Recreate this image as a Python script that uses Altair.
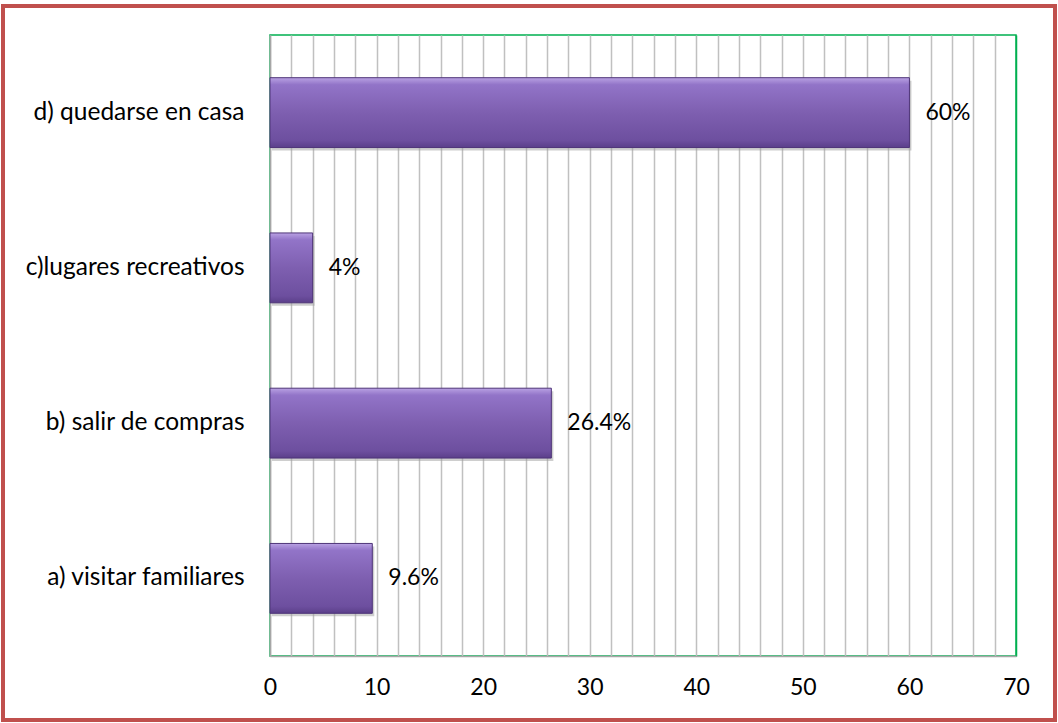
import altair as alt
import pandas as pd

categories = ["d) quedarse en casa", "c)lugares recreativos", "b) salir de compras", "a) visitar familiares"]
values = [60, 4, 26.4, 9.6]
value_labels = ["60%", "4%", "26.4%", "9.6%"]
tick_values = list(range(0, 72, 2))

df = pd.DataFrame({"cat": categories, "val": values, "lab": value_labels})

FONT = "Lato"
FS = 23

y_enc = alt.Y("cat:N", sort=categories, title=None,
              scale=alt.Scale(paddingInner=0.55, paddingOuter=0.275),
              axis=alt.Axis(labelFontSize=24.5, labelColor="#000000", labelFont=FONT,
                            labelPadding=26, ticks=False, domainColor="#a6a6a6",
                            labelLimit=400, labelOverlap=False,
                            domainWidth=1.5, grid=False))
x_enc = alt.X("val:Q", title=None,
              scale=alt.Scale(domain=[0, 70], nice=False),
              axis=alt.Axis(values=tick_values, tickCount=len(tick_values) + 2,
                            labelExpr="datum.value % 10 == 0 ? datum.label : ''",
                            labelOverlap=False, labelBound=False, labelFlush=False,
                            labelFontSize=FS, labelColor="#000000", labelFont=FONT,
                            labelPadding=20, ticks=False, domainColor="#a6a6a6",
                            domainWidth=1.5, grid=True, gridWidth=1.5,
                            gridColor={"condition": {"test": "datum.value == 70", "value": "#00b050"},
                                       "value": "#c0c0c0"}))

grad = alt.LinearGradient(
    gradient="linear", x1=0, y1=0, x2=0, y2=1,
    stops=[alt.GradientStop(offset=0, color="#b9a2e3"),
           alt.GradientStop(offset=0.1, color="#9274c8"),
           alt.GradientStop(offset=0.5, color="#7e5fb0"),
           alt.GradientStop(offset=0.9, color="#6d4f9f"),
           alt.GradientStop(offset=1, color="#5b3f8a")])

shadow = alt.Chart(df).mark_bar(color="#9e9e9e", opacity=0.5, xOffset=2, yOffset=3).encode(
    y=y_enc, x=x_enc)
bars = alt.Chart(df).mark_bar(color=grad, stroke="#4e3478", strokeWidth=1).encode(
    y=y_enc, x=x_enc)
text = alt.Chart(df).mark_text(align="left", baseline="middle", dx=16, fontSize=FS,
                               font=FONT, color="#000000").encode(
    y=alt.Y("cat:N", sort=categories), x="val:Q", text="lab:N")

border = alt.Chart(pd.DataFrame({"k": [0]})).mark_rect(
    fill=None, stroke="#c0504d", strokeWidth=4).encode(
    x=alt.value(-267), x2=alt.value(785), y=alt.value(-29), y2=alt.value(685))

chart = alt.layer(shadow, bars, text, border).properties(
    width=746, height=621,
    autosize=alt.AutoSizeParams(type="none"),
    padding={"left": 270, "top": 35, "right": 42, "bottom": 67},
    background="#ffffff"
).configure_view(stroke="#00b050", strokeWidth=1.5)

chart.save("out.html", embed_options={"renderer": "svg", "actions": False})
